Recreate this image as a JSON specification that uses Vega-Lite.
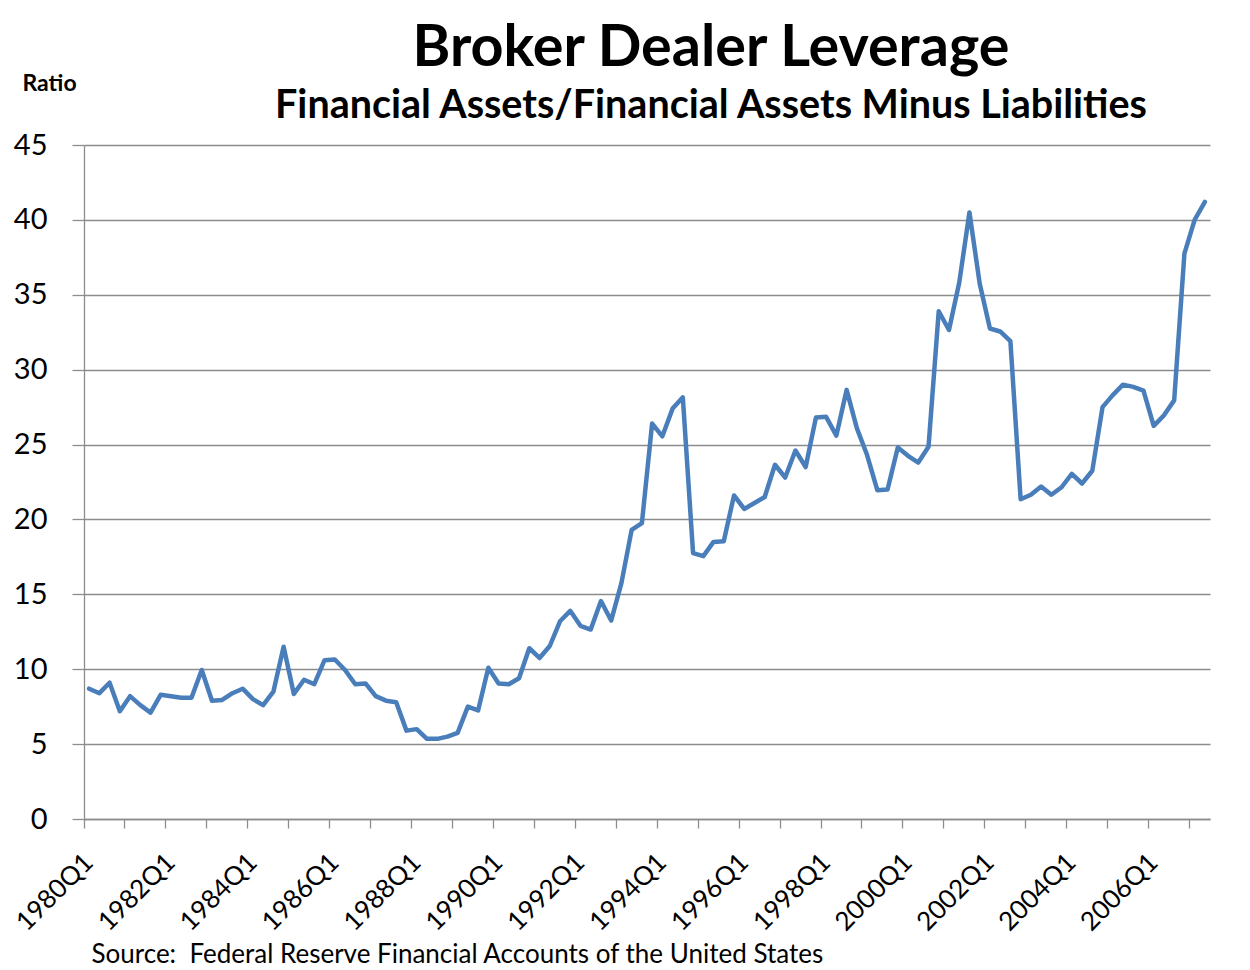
{
  "$schema": "https://vega.github.io/schema/vega-lite/v6.json",
  "width": 1126,
  "height": 674,
  "autosize": {"type": "none"},
  "padding": {"left": 84, "top": 145, "right": 40, "bottom": 151},
  "background": "white",
  "config": {"font": "Lato", "view": {"stroke": null}},
  "title": {
    "text": "Broker Dealer Leverage",
    "subtitle": "Financial Assets/Financial Assets Minus Liabilities",
    "anchor": "middle",
    "frame": "group",
    "dx": 64,
    "font": "Lato",
    "fontSize": 57.5,
    "fontWeight": "bold",
    "color": "black",
    "subtitleFont": "Lato",
    "subtitleFontSize": 39.5,
    "subtitleFontWeight": "bold",
    "subtitleColor": "black",
    "subtitlePadding": 8,
    "offset": -54
  },
  "data": {
    "values": [
      {"quarter": "1980Q1", "ratio": 8.7}, {"quarter": "1980Q2", "ratio": 8.4}, {"quarter": "1980Q3", "ratio": 9.1}, {"quarter": "1980Q4", "ratio": 7.2},
      {"quarter": "1981Q1", "ratio": 8.2}, {"quarter": "1981Q2", "ratio": 7.6}, {"quarter": "1981Q3", "ratio": 7.1}, {"quarter": "1981Q4", "ratio": 8.3},
      {"quarter": "1982Q1", "ratio": 8.2}, {"quarter": "1982Q2", "ratio": 8.1}, {"quarter": "1982Q3", "ratio": 8.1}, {"quarter": "1982Q4", "ratio": 9.95},
      {"quarter": "1983Q1", "ratio": 7.9}, {"quarter": "1983Q2", "ratio": 7.95}, {"quarter": "1983Q3", "ratio": 8.4}, {"quarter": "1983Q4", "ratio": 8.7},
      {"quarter": "1984Q1", "ratio": 8.0}, {"quarter": "1984Q2", "ratio": 7.6}, {"quarter": "1984Q3", "ratio": 8.5}, {"quarter": "1984Q4", "ratio": 11.5},
      {"quarter": "1985Q1", "ratio": 8.35}, {"quarter": "1985Q2", "ratio": 9.3}, {"quarter": "1985Q3", "ratio": 9.0}, {"quarter": "1985Q4", "ratio": 10.6},
      {"quarter": "1986Q1", "ratio": 10.65}, {"quarter": "1986Q2", "ratio": 9.95}, {"quarter": "1986Q3", "ratio": 9.0}, {"quarter": "1986Q4", "ratio": 9.05},
      {"quarter": "1987Q1", "ratio": 8.2}, {"quarter": "1987Q2", "ratio": 7.9}, {"quarter": "1987Q3", "ratio": 7.8}, {"quarter": "1987Q4", "ratio": 5.9},
      {"quarter": "1988Q1", "ratio": 6.0}, {"quarter": "1988Q2", "ratio": 5.35}, {"quarter": "1988Q3", "ratio": 5.35}, {"quarter": "1988Q4", "ratio": 5.5},
      {"quarter": "1989Q1", "ratio": 5.75}, {"quarter": "1989Q2", "ratio": 7.5}, {"quarter": "1989Q3", "ratio": 7.25}, {"quarter": "1989Q4", "ratio": 10.1},
      {"quarter": "1990Q1", "ratio": 9.05}, {"quarter": "1990Q2", "ratio": 9.0}, {"quarter": "1990Q3", "ratio": 9.4}, {"quarter": "1990Q4", "ratio": 11.4},
      {"quarter": "1991Q1", "ratio": 10.75}, {"quarter": "1991Q2", "ratio": 11.55}, {"quarter": "1991Q3", "ratio": 13.2}, {"quarter": "1991Q4", "ratio": 13.9},
      {"quarter": "1992Q1", "ratio": 12.9}, {"quarter": "1992Q2", "ratio": 12.65}, {"quarter": "1992Q3", "ratio": 14.55}, {"quarter": "1992Q4", "ratio": 13.25},
      {"quarter": "1993Q1", "ratio": 15.75}, {"quarter": "1993Q2", "ratio": 19.3}, {"quarter": "1993Q3", "ratio": 19.75}, {"quarter": "1993Q4", "ratio": 26.4},
      {"quarter": "1994Q1", "ratio": 25.55}, {"quarter": "1994Q2", "ratio": 27.4}, {"quarter": "1994Q3", "ratio": 28.15}, {"quarter": "1994Q4", "ratio": 17.75},
      {"quarter": "1995Q1", "ratio": 17.55}, {"quarter": "1995Q2", "ratio": 18.5}, {"quarter": "1995Q3", "ratio": 18.55}, {"quarter": "1995Q4", "ratio": 21.6},
      {"quarter": "1996Q1", "ratio": 20.7}, {"quarter": "1996Q2", "ratio": 21.1}, {"quarter": "1996Q3", "ratio": 21.5}, {"quarter": "1996Q4", "ratio": 23.65},
      {"quarter": "1997Q1", "ratio": 22.8}, {"quarter": "1997Q2", "ratio": 24.6}, {"quarter": "1997Q3", "ratio": 23.5}, {"quarter": "1997Q4", "ratio": 26.8},
      {"quarter": "1998Q1", "ratio": 26.85}, {"quarter": "1998Q2", "ratio": 25.6}, {"quarter": "1998Q3", "ratio": 28.65}, {"quarter": "1998Q4", "ratio": 26.1},
      {"quarter": "1999Q1", "ratio": 24.3}, {"quarter": "1999Q2", "ratio": 21.95}, {"quarter": "1999Q3", "ratio": 22.0}, {"quarter": "1999Q4", "ratio": 24.8},
      {"quarter": "2000Q1", "ratio": 24.25}, {"quarter": "2000Q2", "ratio": 23.8}, {"quarter": "2000Q3", "ratio": 24.85}, {"quarter": "2000Q4", "ratio": 33.9},
      {"quarter": "2001Q1", "ratio": 32.65}, {"quarter": "2001Q2", "ratio": 35.8}, {"quarter": "2001Q3", "ratio": 40.5}, {"quarter": "2001Q4", "ratio": 35.75},
      {"quarter": "2002Q1", "ratio": 32.75}, {"quarter": "2002Q2", "ratio": 32.55}, {"quarter": "2002Q3", "ratio": 31.9}, {"quarter": "2002Q4", "ratio": 21.35},
      {"quarter": "2003Q1", "ratio": 21.65}, {"quarter": "2003Q2", "ratio": 22.2}, {"quarter": "2003Q3", "ratio": 21.65}, {"quarter": "2003Q4", "ratio": 22.15},
      {"quarter": "2004Q1", "ratio": 23.05}, {"quarter": "2004Q2", "ratio": 22.4}, {"quarter": "2004Q3", "ratio": 23.25}, {"quarter": "2004Q4", "ratio": 27.5},
      {"quarter": "2005Q1", "ratio": 28.3}, {"quarter": "2005Q2", "ratio": 29.0}, {"quarter": "2005Q3", "ratio": 28.85}, {"quarter": "2005Q4", "ratio": 28.6},
      {"quarter": "2006Q1", "ratio": 26.25}, {"quarter": "2006Q2", "ratio": 26.95}, {"quarter": "2006Q3", "ratio": 27.95}, {"quarter": "2006Q4", "ratio": 37.75},
      {"quarter": "2007Q1", "ratio": 40.0}, {"quarter": "2007Q2", "ratio": 41.2}
    ]
  },
  "mark": {"type": "line", "color": "#4A7EBB", "strokeWidth": 4.5, "strokeJoin": "round", "strokeCap": "round"},
  "encoding": {
    "x": {
      "field": "quarter",
      "type": "ordinal",
      "scale": {"type": "band", "paddingInner": 0, "paddingOuter": 0},
      "axis": {
        "values": ["1980Q1","1981Q1","1982Q1","1983Q1","1984Q1","1985Q1","1986Q1","1987Q1","1988Q1","1989Q1","1990Q1","1991Q1","1992Q1","1993Q1","1994Q1","1995Q1","1996Q1","1997Q1","1998Q1","1999Q1","2000Q1","2001Q1","2002Q1","2003Q1","2004Q1","2005Q1","2006Q1","2007Q1"],
        "bandPosition": 0,
        "labelExpr": "toNumber(substring(datum.value, 0, 4)) % 2 == 0 ? datum.value : ''",
        "labelAngle": -45,
        "labelAlign": "right",
        "labelBaseline": "middle",
        "labelFont": "Lato",
        "labelFontSize": 26,
        "labelColor": "black",
        "labelPadding": 30,
        "labelOverlap": false,
        "tickSize": 9,
        "tickColor": "#8c8c8c",
        "tickWidth": 1.3,
        "domainColor": "#8c8c8c",
        "domainWidth": 1.3,
        "grid": false,
        "title": "Source:\u00a0 Federal Reserve Financial Accounts of the United States",
        "titleX": 7,
        "titleY": 143,
        "titleAlign": "left",
        "titleAnchor": null,
        "titleBaseline": "alphabetic",
        "titleFont": "Lato",
        "titleFontSize": 26,
        "titleFontWeight": "normal",
        "titleColor": "black"
      }
    },
    "y": {
      "field": "ratio",
      "type": "quantitative",
      "scale": {"domain": [0, 45], "nice": false},
      "axis": {
        "values": [0, 5, 10, 15, 20, 25, 30, 35, 40, 45],
        "grid": true,
        "gridColor": "#8c8c8c",
        "gridWidth": 1.3,
        "tickSize": 12,
        "tickColor": "#8c8c8c",
        "tickWidth": 1.3,
        "domainColor": "#8c8c8c",
        "domainWidth": 1.3,
        "labelFont": "Lato",
        "labelFontSize": 29,
        "labelColor": "black",
        "labelPadding": 25,
        "title": "Ratio",
        "titleAngle": 0,
        "titleX": -62,
        "titleY": -55,
        "titleAlign": "left",
        "titleBaseline": "alphabetic",
        "titleFont": "Lato",
        "titleFontSize": 23,
        "titleFontWeight": "bold",
        "titleColor": "black"
      }
    }
  }
}
